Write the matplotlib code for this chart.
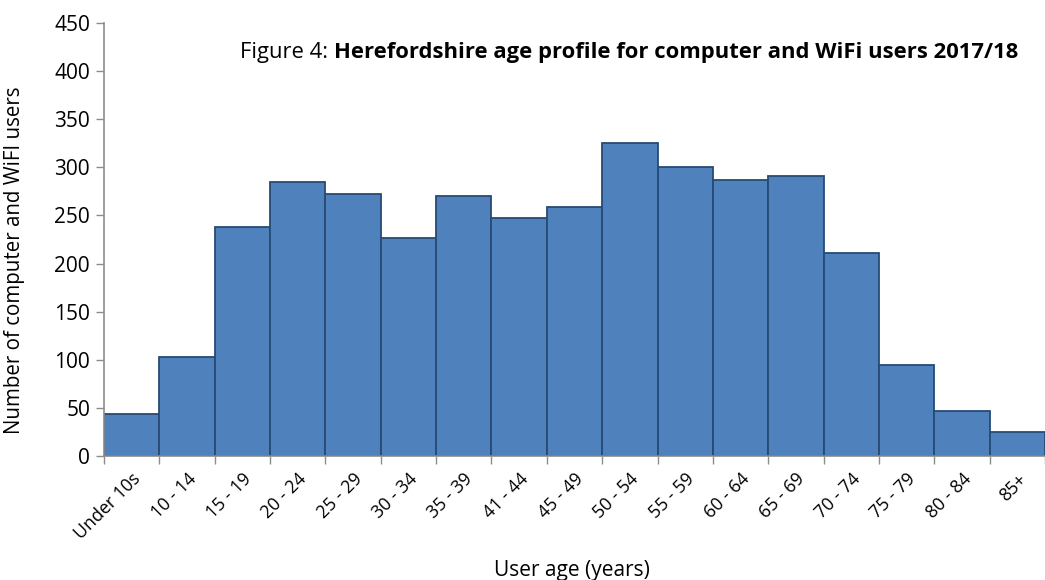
import numpy as np
import matplotlib
matplotlib.use('Agg')
import matplotlib.pyplot as plt
from matplotlib import rcParams

rcParams['font.family'] = ['Open Sans', 'DejaVu Sans']

# data
age_groups = ['Under 10s', '10 - 14', '15 - 19', '20 - 24', '25 - 29', '30 - 34',
              '35 - 39', '41 - 44', '45 - 49', '50 - 54', '55 - 59', '60 - 64',
              '65 - 69', '70 - 74', '75 - 79', '80 - 84', '85+']
users = [44, 103, 238, 285, 272, 227, 270, 247, 259, 325, 300, 287, 291, 211, 95, 47, 25]
y_ticks = [0, 50, 100, 150, 200, 250, 300, 350, 400, 450]

fig = plt.figure(figsize=(10.45, 5.8), dpi=100)
ax = fig.add_axes([0.0995, 0.2133, 0.9005, 0.7476])

x = np.arange(len(age_groups))
ax.bar(x, users, width=1.0, color='#4F81BD', edgecolor='#284a74', linewidth=1.3)

ax.set_xlim(-0.5, len(age_groups) - 0.5)
ax.set_ylim(0, 450)
ax.set_yticks(y_ticks)
ax.tick_params(axis='y', labelsize=15, length=6, color='#8c8c8c', width=1, pad=4)

# tick marks between the categories, labels under bar centres
ax.set_xticks(np.arange(len(age_groups) + 1) - 0.5)
ax.set_xticklabels([])
ax.set_xticks(x, minor=True)
ax.set_xticklabels(age_groups, minor=True, rotation=45, ha='right',
                   rotation_mode='anchor', fontsize=12.8)
ax.tick_params(axis='x', which='major', length=6, color='#8c8c8c', width=1)
ax.tick_params(axis='x', which='minor', length=0, pad=10)

for side in ['top', 'right']:
    ax.spines[side].set_visible(False)
for side in ['left', 'bottom']:
    ax.spines[side].set_color('#8c8c8c')
    ax.spines[side].set_linewidth(1.2)

fig.text(15 / 1045, 1 - 260 / 580, 'Number of computer and WiFI users',
         rotation=90, ha='center', va='center', fontsize=14.8)
fig.text(572 / 1045, 1 - 576 / 580, 'User age (years)', ha='center', va='baseline', fontsize=15)

# title: normal prefix, bold remainder
ty = 1 - 58 / 580
t_bold = fig.text(1018 / 1045, ty, 'Herefordshire age profile for computer and WiFi users 2017/18',
                  ha='right', va='baseline', fontsize=15.8, fontweight='bold')
fig.canvas.draw()
bb = t_bold.get_window_extent()
fig.text(bb.x0 / fig.bbox.width, ty, 'Figure 4: ', ha='right', va='baseline', fontsize=15.8)

fig.savefig('out.png', dpi=100)
